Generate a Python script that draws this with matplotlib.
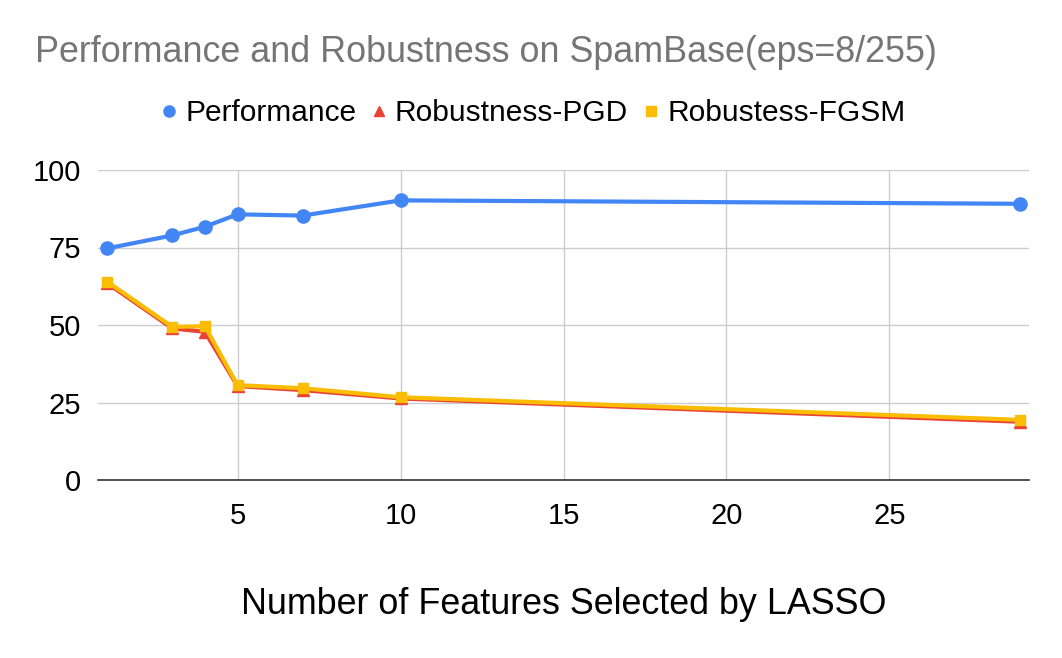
import matplotlib
matplotlib.use("Agg")
import matplotlib.pyplot as plt
from matplotlib.lines import Line2D

features = [1, 3, 4, 5, 7, 10, 29]
performance = [74.7, 78.9, 81.7, 85.7, 85.3, 90.2, 89.1]
robust_pgd = [63.5, 48.9, 47.8, 30.3, 29.0, 26.3, 18.8]
robust_fgsm = [64.0, 49.4, 49.6, 30.6, 29.6, 26.7, 19.4]
y_ticks = [0, 25, 50, 75, 100]
x_ticks = [5, 10, 15, 20, 25]

blue = "#4285F4"
red = "#EA4335"
yellow = "#FBBC04"

plt.rcParams["font.family"] = ["Liberation Sans", "DejaVu Sans"]

fig = plt.figure(figsize=(10.62, 6.58), dpi=100)
ax = fig.add_axes([98 / 1062, 1 - 480 / 658, (1029 - 98) / 1062, (480 - 170) / 658])

ax.plot(features, performance, color=blue, lw=3, marker="o", ms=9.5, zorder=3)
ax.plot(features, robust_pgd, color=red, lw=3, marker="^", ms=8, zorder=4)
ax.plot(features, robust_fgsm, color=yellow, lw=3, marker="s", ms=7.5, zorder=5)

ax.set_xlim(0.72, 29.28)
ax.set_ylim(0, 100)
ax.set_xticks(x_ticks)
ax.set_yticks(y_ticks)
ax.grid(True, color="#cccccc", lw=1)
ax.set_axisbelow(True)
for side in ["top", "right", "left"]:
    ax.spines[side].set_visible(False)
ax.spines["bottom"].set_color("#333333")
ax.spines["bottom"].set_linewidth(1.2)
ax.tick_params(length=0, labelsize=21, colors="black")
ax.tick_params(axis="y", pad=12)
ax.tick_params(axis="x", pad=16)

ax.set_xlabel("Number of Features Selected by LASSO", fontsize=25.8, va="center")
ax.xaxis.set_label_coords(0.5, -0.403)

fig.text(35 / 1062, 1 - 53 / 658, "Performance and Robustness on SpamBase(eps=8/255)",
         fontsize=25.8, color="#757575", ha="left", va="center")

handles = [
    Line2D([], [], color=blue, marker="o", ls="", ms=8),
    Line2D([], [], color=red, marker="^", ls="", ms=7),
    Line2D([], [], color=yellow, marker="s", ls="", ms=6.5),
]
fig.legend(handles, ["Performance", "Robustness-PGD", "Robustess-FGSM"],
           loc="center", bbox_to_anchor=(0.5, 1 - 113 / 658), ncol=3, frameon=False,
           fontsize=21.5, handletextpad=0.15, columnspacing=0.35, handlelength=0.8)

fig.savefig("out.png", dpi=100)
